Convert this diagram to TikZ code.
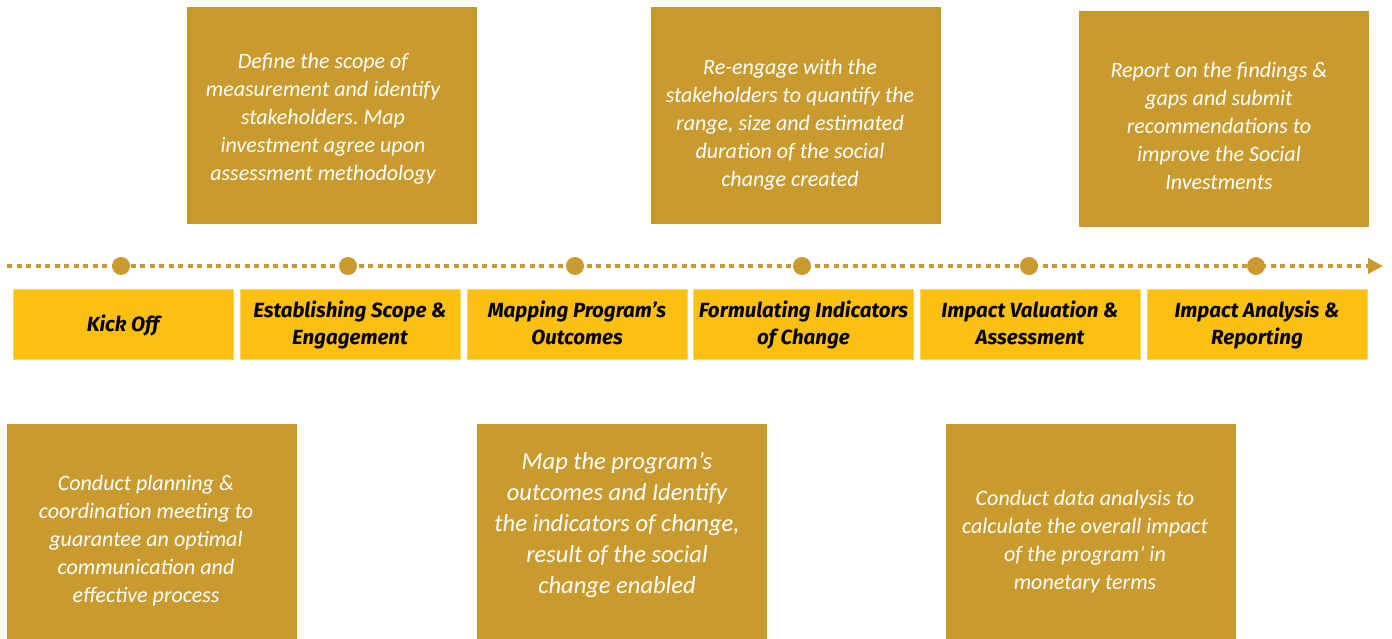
\documentclass[tikz,border=0pt]{standalone}
\usepackage{fontspec}
\setmainfont{Carlito}
\newfontfamily\labelfont{Fira Sans}
\usetikzlibrary{arrows.meta}
\definecolor{gold}{HTML}{C99A2D}
\definecolor{amber}{HTML}{FBC012}
\definecolor{amberedge}{HTML}{FDD56A}
\frenchspacing
\begin{document}
\begin{tikzpicture}[x=1pt,y=-1pt,
  infobox/.style={fill=gold,draw=none,minimum width=290pt,anchor=north west,inner sep=0pt},
  infotext/.style={text=white,align=center,font=\itshape\fontsize{22}{28}\selectfont,inner sep=0pt},
  stage/.style={fill=amber,draw=amberedge,line width=1pt,minimum width=220pt,minimum height=70pt,inner sep=0pt},
  stagetext/.style={align=center,inner sep=0pt,font=\labelfont\bfseries\itshape\fontsize{20.5}{27}\selectfont},
  milestone/.style={circle,fill=gold,draw=none,minimum size=18pt,inner sep=0pt},
  timeline/.style={draw=gold,line width=4pt,dash pattern=on 5pt off 4.5pt,-{Triangle[length=15pt,width=15pt]}}]
\useasboundingbox (0,0) rectangle (1392,639);

% timeline with milestones
\coordinate (tstart) at (7,266);
\coordinate (tend) at (1383,266);
\draw[timeline] (tstart) -- (tend);
\foreach \i/\x in {1/121,2/348,3/575,4/802,5/1029,6/1256}
  \node[milestone] (d\i) at (\x,266) {};

% stage boxes
\node[stage] (s1) at (123,324) {};
\node[stage] (s2) at (350,324) {};
\node[stage] (s3) at (577,324) {};
\node[stage] (s4) at (803.5,324) {};
\node[stage] (s5) at (1030,324) {};
\node[stage] (s6) at (1257,324) {};

% stage labels (struts keep the line positions uniform)
\node[stagetext] (l1) at (123,326.5) {\strut Kick Off\strut};
\node[stagetext] (l2) at (350,326) {\strut Establishing Scope \&\\Engagement\strut};
\node[stagetext] (l3) at (577,326) {\strut Mapping Program’s\\Outcomes\strut};
\node[stagetext] (l4) at (803.5,326) {\strut Formulating Indicators\\of Change\strut};
\node[stagetext] (l5) at (1030,326) {\strut Impact Valuation \&\\Assessment\strut};
\node[stagetext] (l6) at (1257,326) {\strut Impact Analysis \&\\Reporting\strut};

% description boxes above the line
\node[infobox,minimum height=217pt] (b1) at (187,7) {};
\node[infotext] (t1) at (323,119) {Define the scope of\\measurement and identify\\stakeholders. Map\\investment agree upon\\assessment methodology};
\node[infobox,minimum height=217pt] (b2) at (651,7) {};
\node[infotext] (t2) at (790,125) {Re-engage with the\\stakeholders to quantify the\\range, size and estimated\\duration of the social\\change created};
\node[infobox,minimum height=216pt] (b3) at (1079,11) {};
\node[infotext] (t3) at (1219,125.5) {Report on the findings \&\\gaps and submit\\recommendations to\\improve the Social\\Investments};

% description boxes below the line
\node[infobox,minimum height=216pt] (b4) at (7,424) {};
\node[infotext] (t4) at (146,541) {Conduct planning \&\\coordination meeting to\\guarantee an optimal\\communication and\\effective process};
\node[infobox,minimum height=216pt] (b5) at (477,424) {};
\node[infotext,font=\itshape\fontsize{24.5}{31}\selectfont] (t5) at (617,525) {Map the program’s\\outcomes and Identify\\the indicators of change,\\result of the social\\change enabled};
\node[infobox,minimum height=216pt] (b6) at (946,424) {};
\node[infotext] (t6) at (1085,541.5) {Conduct data analysis to\\calculate the overall impact\\of the program’ in\\monetary terms};
\end{tikzpicture}
\end{document}
